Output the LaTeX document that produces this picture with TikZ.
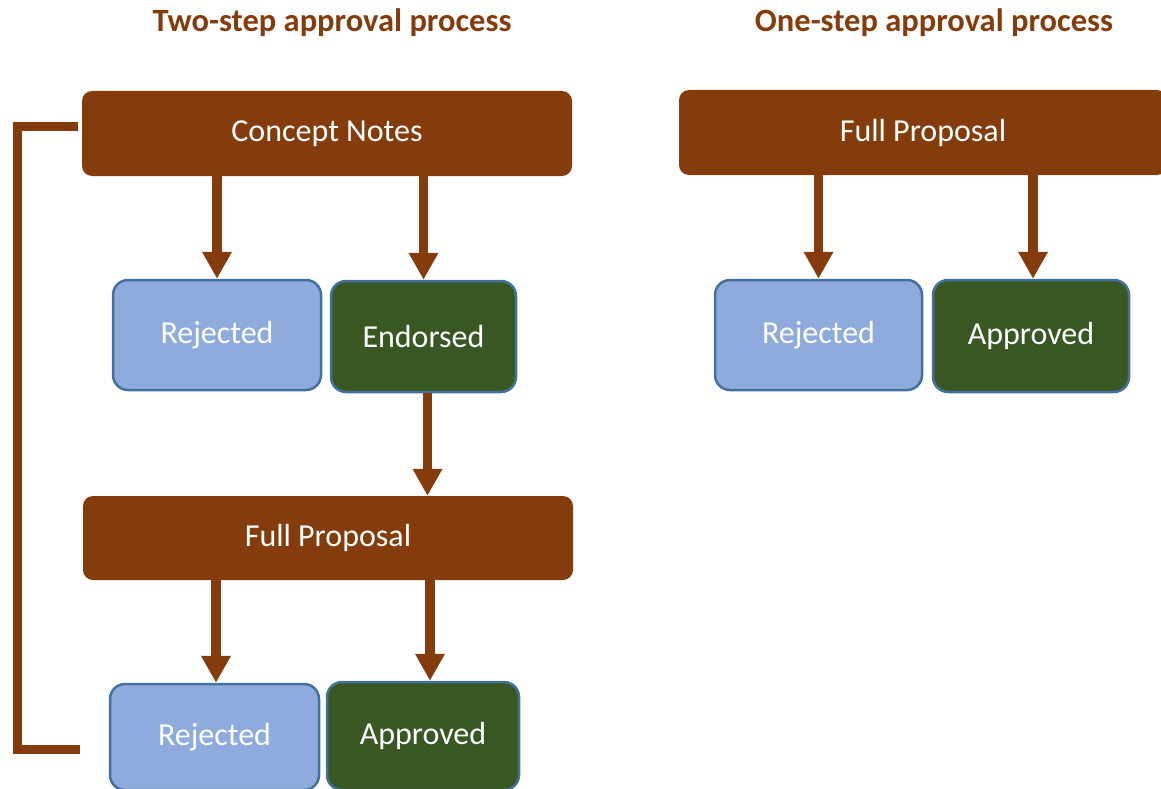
\documentclass[tikz,border=0pt]{standalone}
\usepackage{fontspec}
\setmainfont{Carlito}
\usetikzlibrary{arrows.meta}
\definecolor{rust}{HTML}{843C0C}
\definecolor{paleblue}{HTML}{8FAADC}
\definecolor{edgeblue}{HTML}{41719C}
\definecolor{darkgreen}{HTML}{385723}
\tikzset{
  stagebox/.style={fill=rust, draw=none, rounded corners=10pt, text=white,
    font=\fontsize{32}{38}\selectfont, inner sep=0pt},
  rejbox/.style={fill=paleblue, draw=edgeblue, line width=2.5pt, rounded corners=15pt,
    text=white, font=\fontsize{32}{38}\selectfont, inner sep=0pt},
  okbox/.style={fill=darkgreen, draw=edgeblue, line width=2.5pt, rounded corners=15pt,
    text=white, font=\fontsize{32}{38}\selectfont, inner sep=0pt},
  flow/.style={draw=rust, line width=9.5pt,
    -{Triangle[length=27pt 0 0, width=28pt 0 0, fill=rust]}},
  loopline/.style={draw=rust, line width=9pt, miter limit=10},
  heading/.style={text=rust, font=\fontsize{32.5}{38}\selectfont\bfseries, inner sep=0pt}
}
\begin{document}
\begin{tikzpicture}[x=1pt, y=-1pt]
  \useasboundingbox (0,0) rectangle (1161,789);
  \clip (0,0) rectangle (1161,789);

  % headings
  \node[heading] (h1) at (332,23) {Two-step approval process};
  \node[heading] (h2) at (934,23) {One-step approval process};

  % two-step process
  \node[stagebox, minimum width=490pt, minimum height=85pt] (cn) at (327,133.5) {Concept Notes};
  \node[rejbox, minimum width=208pt, minimum height=110pt] (rj1) at (217,335) {Rejected};
  \node[okbox, minimum width=185pt, minimum height=111pt] (en) at (423.5,336.5) {Endorsed};
  \node[stagebox, minimum width=490pt, minimum height=84pt] (fp1) at (328,538) {Full Proposal};
  \node[rejbox, minimum width=209pt, minimum height=106pt] (rj2) at (214.5,737) {Rejected};
  \node[okbox, minimum width=192pt, minimum height=108pt] (ap2) at (423,736) {Approved};

  \draw[flow] (cn.south -| rj1) -- (rj1.north);
  \draw[flow] (cn.south -| en) -- (en.north);
  \draw[flow] ([xshift=4pt]en.south) -- ([xshift=4pt]en.south |- fp1.north);
  \draw[flow] ([xshift=1.5pt]fp1.south -| rj2) -- ([xshift=1.5pt]rj2.north);
  \draw[flow] ([xshift=7pt]fp1.south -| ap2) -- ([xshift=7pt]ap2.north);

  % return line from the final stage back to the concept notes
  \coordinate (lt) at (78,127);
  \coordinate (lb) at (80,749);
  \draw[loopline] (lt) -- ++(-61,0) |- (lb);

  % one-step process
  \node[stagebox, minimum width=488pt, minimum height=85pt] (fp2) at (923,132.5) {Full Proposal};
  \node[rejbox, minimum width=207pt, minimum height=110pt] (rj3) at (818.5,335) {Rejected};
  \node[okbox, minimum width=196pt, minimum height=112pt] (ap3) at (1031,336) {Approved};

  \draw[flow] (fp2.south -| rj3) -- (rj3.north);
  \draw[flow] ([xshift=2pt]fp2.south -| ap3) -- ([xshift=2pt]ap3.north);
\end{tikzpicture}
\end{document}
